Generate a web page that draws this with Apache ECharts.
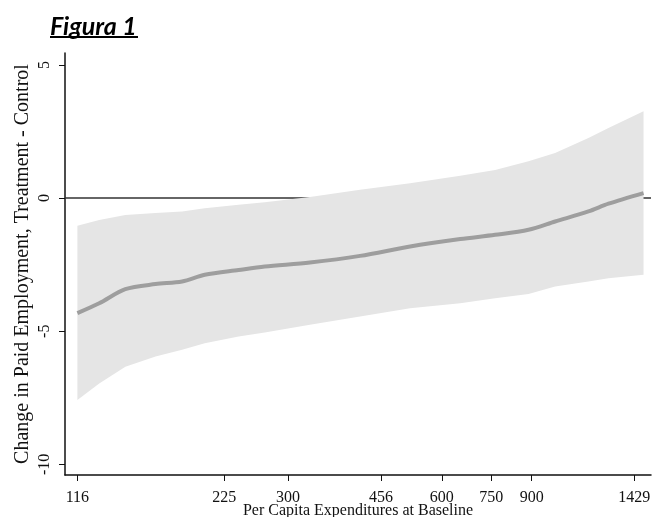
<!DOCTYPE html>
<html>
<head>
<meta charset="utf-8">
<script src="https://cdn.jsdelivr.net/npm/echarts@6/dist/echarts.min.js"></script>
<style>
  html, body { margin: 0; padding: 0; background: #fff; }
  #chart { width: 653px; height: 517px; }
</style>
</head>
<body>
<div id="chart"></div>
<script>
  // per capita expenditures at baseline (log scale on the x axis)
  const expenditure = [116, 128, 144, 165, 186, 206, 240, 270, 331, 415, 520, 652, 763, 887, 1000, 1162, 1272, 1490];
  const meanEffect = [-4.32, -3.95, -3.42, -3.23, -3.13, -2.88, -2.70, -2.57, -2.42, -2.17, -1.82, -1.54, -1.38, -1.19, -0.88, -0.50, -0.21, 0.19];
  const ciLower = [-7.58, -6.96, -6.33, -5.95, -5.70, -5.45, -5.20, -5.05, -4.76, -4.45, -4.14, -3.95, -3.76, -3.60, -3.32, -3.13, -3.01, -2.88];
  const ciUpper = [-1.04, -0.82, -0.63, -0.56, -0.50, -0.38, -0.25, -0.16, 0.04, 0.31, 0.56, 0.84, 1.06, 1.38, 1.69, 2.26, 2.63, 3.26];

  const xTicks = [116, 225, 300, 456, 600, 750, 900, 1429];
  const yTicks = [-10, -5, 0, 5];

  const SERIF = '"Liberation Serif", "DejaVu Serif", serif';
  const AXIS_COLOR = '#111';

  const lx = (v) => Math.log(v);

  const chart = echarts.init(document.getElementById('chart'));

  // 置信区间：上界正向 + 下界反向，拼成一个多边形
  const bandData = expenditure.map((x, i) => [lx(x), ciLower[i], ciUpper[i]]);

  const renderBand = (params, api) => {
    if (params.dataIndex !== 0) return;
    const upper = [];
    const lower = [];
    for (let i = 0; i < bandData.length; i++) {
      upper.push(api.coord([bandData[i][0], bandData[i][2]]));
      lower.push(api.coord([bandData[i][0], bandData[i][1]]));
    }
    return {
      type: 'polygon',
      shape: { points: upper.concat(lower.reverse()) },
      style: { fill: '#e5e5e5', stroke: null },
      silent: true,
    };
  };

  const option = {
    animation: false,
    backgroundColor: '#fff',
    graphic: [
      {
        type: 'text',
        left: 50,
        top: 14,
        style: {
          text: 'Figura 1',
          font: 'italic bold 25px Lato, "Open Sans", sans-serif',
          fill: '#000',
        },
      },
      {
        type: 'rect',
        left: 50,
        top: 36,
        shape: { width: 88, height: 2 },
        style: { fill: '#000' },
      },
    ],
    grid: {
      left: 65,
      right: 2,
      top: 53,
      bottom: 42,
      containLabel: false,
      outerBoundsMode: 'none',
    },
    xAxis: {
      type: 'value',
      min: lx(109.7),
      max: lx(1541),
      name: 'Per Capita Expenditures at Baseline',
      nameLocation: 'middle',
      nameGap: 28,
      nameMoveOverlap: false,
      nameTextStyle: { fontFamily: SERIF, fontSize: 16, color: '#111' },
      axisLine: { show: true, onZero: false, lineStyle: { color: AXIS_COLOR, width: 1.5 } },
      axisTick: {
        show: true,
        length: 6,
        customValues: xTicks.map(lx),
        lineStyle: { color: AXIS_COLOR, width: 1 },
      },
      axisLabel: {
        customValues: xTicks.map(lx),
        formatter: (v) => String(Math.round(Math.exp(v))),
        fontFamily: SERIF,
        fontSize: 16,
        color: '#111',
        margin: 15,
      },
      splitLine: { show: false },
    },
    yAxis: {
      type: 'value',
      min: -10.4,
      max: 5.45,
      name: 'Change in Paid Employment, Treatment - Control',
      nameLocation: 'middle',
      nameGap: 32,
      nameMoveOverlap: false,
      nameTextStyle: { fontFamily: SERIF, fontSize: 20, color: '#111' },
      axisLine: { show: true, onZero: false, lineStyle: { color: AXIS_COLOR, width: 1.5 } },
      axisTick: {
        show: true,
        length: 6,
        customValues: yTicks,
        lineStyle: { color: AXIS_COLOR, width: 1 },
      },
      axisLabel: {
        customValues: yTicks,
        rotate: 90,
        fontFamily: SERIF,
        fontSize: 16,
        color: '#111',
        margin: 12,
      },
      splitLine: { show: false },
    },
    series: [
      {
        name: 'zero',
        type: 'line',
        data: [],
        z: 1,
        markLine: {
          silent: true,
          z: 1,
          symbol: 'none',
          label: { show: false },
          lineStyle: { color: '#333', width: 1.5, type: 'solid' },
          data: [{ yAxis: 0 }],
        },
      },
      {
        name: 'ci',
        type: 'custom',
        z: 2,
        renderItem: renderBand,
        data: bandData,
        encode: { x: 0, y: [1, 2] },
      },
      {
        name: 'mean',
        type: 'line',
        smooth: 0.3,
        symbol: 'none',
        z: 3,
        lineStyle: { color: '#9e9e9e', width: 4 },
        data: expenditure.map((x, i) => [lx(x), meanEffect[i]]),
      },
    ],
  };

  chart.setOption(option);
</script>
</body>
</html>
